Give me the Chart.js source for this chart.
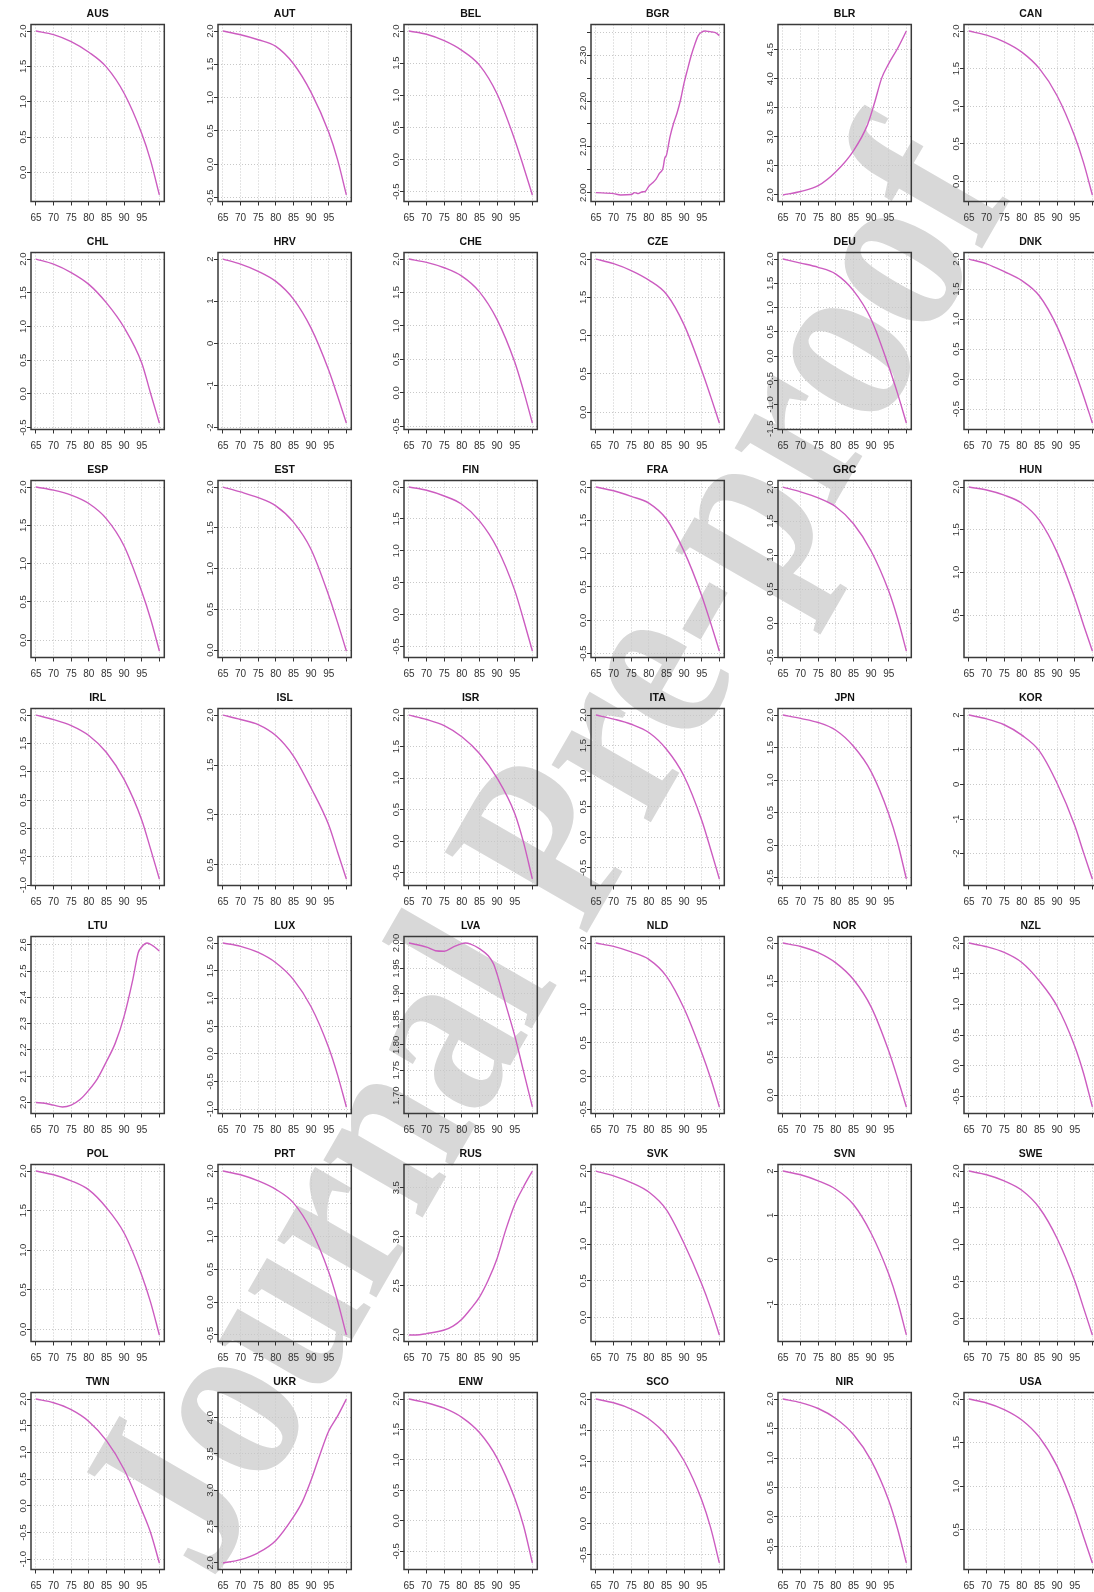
<!DOCTYPE html>
<html><head><meta charset="utf-8">
<script src="https://cdn.jsdelivr.net/npm/chart.js@4.4.1/dist/chart.umd.min.js"></script>
<style>
html,body{margin:0;padding:0;background:#fff;}
body{width:1094px;height:1592px;overflow:hidden;position:relative;}
canvas.p{position:absolute;}
#wm{position:absolute;left:540px;top:846px;transform:translate(-50%,-50%) rotate(-60deg) scale(1,1.2);
font-family:'Liberation Serif','Times New Roman',serif;font-weight:bold;font-size:208px;line-height:1;
white-space:nowrap;color:#d8d8d8;mix-blend-mode:multiply;pointer-events:none;}
</style></head><body>
<div id="wm">Journal Pre-proof</div>
<script>
// ---------- data ----------
const countries = ['AUS','AUT','BEL','BGR','BLR','CAN','CHL','HRV','CHE','CZE','DEU','DNK',
  'ESP','EST','FIN','FRA','GRC','HUN','IRL','ISL','ISR','ITA','JPN','KOR',
  'LTU','LUX','LVA','NLD','NOR','NZL','POL','PRT','RUS','SVK','SVN','SWE',
  'TWN','UKR','ENW','SCO','NIR','USA'];

const ages = [65,70,75,80,85,90,95,97.5,100];
const xTicks = [65,70,75,80,85,90,95,100];
const xLabels = ['65','70','75','80','85','90','95',''];

const AUS = [2.0,1.95,1.85,1.70,1.49,1.12,0.55,0.17,-0.32];
const AUT = [2.0,1.945,1.87,1.77,1.51,1.08,0.48,0.07,-0.46];
const BEL = [2.0,1.95,1.85,1.70,1.47,1.02,0.31,-0.11,-0.55];
const CAN = [2.0,1.946,1.857,1.72,1.50,1.14,0.60,0.25,-0.18];
const CHL = [2.0,1.925,1.80,1.625,1.35,0.985,0.46,0.01,-0.43];
const HRV = [2.0,1.88,1.71,1.47,1.05,0.36,-0.64,-1.25,-1.89];
const CHE = [2.0,1.95,1.87,1.745,1.51,1.095,0.46,0.03,-0.45];
const CZE = [2.0,1.94,1.85,1.725,1.54,1.14,0.545,0.21,-0.14];
const DEU = [2.0,1.917,1.83,1.69,1.35,0.76,-0.215,-0.77,-1.38];
const DNK = [2.0,1.92,1.79,1.64,1.385,0.875,0.14,-0.28,-0.73];
const ESP = [2.0,1.96,1.895,1.785,1.585,1.23,0.635,0.28,-0.14];
const EST = [2.0,1.94,1.87,1.77,1.57,1.235,0.67,0.34,-0.01];
const FIN = [2.0,1.95,1.86,1.73,1.47,1.045,0.38,-0.08,-0.57];
const FRA = [2.0,1.944,1.86,1.76,1.52,1.035,0.37,-0.035,-0.46];
const GRC = [2.0,1.93,1.84,1.71,1.46,1.06,0.47,0.07,-0.41];
const HUN = [2.0,1.965,1.905,1.81,1.61,1.235,0.70,0.385,0.08];
const IRL = [2.0,1.92,1.815,1.64,1.34,0.865,0.15,-0.36,-0.89];
const ISL = [2.0,1.956,1.905,1.795,1.59,1.27,0.90,0.63,0.36];
const ISR = [2.0,1.93,1.833,1.656,1.39,1.0,0.44,-0.02,-0.60];
const ITA = [2.0,1.934,1.85,1.714,1.44,1.0,0.28,-0.19,-0.68];
const JPN = [2.0,1.948,1.885,1.766,1.52,1.13,0.48,0.04,-0.52];
const KOR = [2.0,1.89,1.72,1.42,0.96,0.03,-1.19,-1.97,-2.73];
const LUX = [2.0,1.94,1.83,1.645,1.34,0.85,0.11,-0.38,-0.96];
const NLD = [2.0,1.95,1.867,1.755,1.50,1.015,0.35,-0.03,-0.465];
const NOR = [2.0,1.955,1.875,1.74,1.52,1.16,0.58,0.225,-0.156];
const NZL = [2.0,1.94,1.847,1.683,1.38,0.97,0.32,-0.12,-0.67];
const POL = [2.0,1.953,1.877,1.762,1.536,1.217,0.685,0.345,-0.07];
const PRT = [2.0,1.943,1.85,1.72,1.515,1.10,0.46,0.02,-0.50];
const SVK = [2.0,1.935,1.843,1.713,1.47,1.01,0.455,0.13,-0.24];
const SVN = [2.0,1.916,1.78,1.59,1.246,0.60,-0.32,-0.93,-1.69];
const SWE = [2.0,1.95,1.867,1.74,1.50,1.087,0.514,0.147,-0.22];
const TWN = [2.0,1.93,1.80,1.58,1.22,0.68,-0.08,-0.50,-1.07];
const ENW = [2.0,1.94,1.85,1.70,1.45,1.03,0.37,-0.08,-0.69];
const SCO = [2.0,1.94,1.84,1.68,1.42,1.01,0.38,-0.06,-0.63];
const NIR = [2.0,1.94,1.84,1.67,1.40,0.96,0.28,-0.20,-0.78];
const USA = [2.0,1.955,1.88,1.76,1.56,1.23,0.73,0.42,0.12];

const agesBGR = [65,70,72,75,76,77,78,79,80,81,82,83,84,84.5,85,86,87,88,89,90,91,92,93,94,95,96,97,98,99,100];
const BGR = [2.0,1.998,1.995,1.996,2.0,1.998,2.0015,2.003,2.014,2.021,2.029,2.042,2.053,2.075,2.082,2.122,2.151,2.174,2.203,2.240,2.270,2.299,2.323,2.343,2.351,2.353,2.352,2.351,2.349,2.343];
const agesBLR = [65,70,75,80,85,89,91,93,95,97.5,100];
const BLR = [2.0,2.06,2.16,2.40,2.76,3.21,3.59,4.01,4.26,4.52,4.82];
const agesLTU = [65,67.5,70,72.5,75,77.5,80,82.5,85,87.5,90,92.5,94,95,96.5,98,100];
const LTU = [2.0,1.997,1.99,1.983,1.99,2.011,2.047,2.092,2.156,2.226,2.328,2.47,2.57,2.592,2.607,2.598,2.577];
const agesLVA = [65,70,72.5,75,77.5,80,81,82.5,85,87.5,89,90,92.5,95,97.5,100];
const LVA = [2.0,1.992,1.985,1.984,1.992,1.999,2.0,1.998,1.989,1.975,1.959,1.939,1.878,1.818,1.748,1.678];
const agesRUS = [65,67,70,75,77.5,80,82.5,85,87.5,90,92.5,95,97.5,100];
const RUS = [2.0,2.0,2.014,2.05,2.09,2.16,2.265,2.386,2.56,2.78,3.076,3.33,3.51,3.67];
const agesUKR = [65,70,75,80,85,87.5,90,92.5,95,97.5,100];
const UKR = [2.0,2.046,2.14,2.31,2.634,2.84,3.14,3.49,3.815,4.02,4.255];

// y tick labels
const T_0  = ['0.0','0.5','1.0','1.5','2.0'];
const T_H  = ['-0.5','0.0','0.5','1.0','1.5','2.0'];
const T_1  = ['-1.0','-0.5','0.0','0.5','1.0','1.5','2.0'];
const T_15 = ['-1.5','-1.0','-0.5','0.0','0.5','1.0','1.5','2.0'];
const T_I2 = ['-2','-1','0','1','2'];
const T_I1 = ['-1','0','1','2'];
const T_P5 = ['0.5','1.0','1.5','2.0'];
const T_BLR = ['2.0','2.5','3.0','3.5','4.0','4.5'];
const T_RUS = ['2.0','2.5','3.0','3.5'];
const T_UKR = ['2.0','2.5','3.0','3.5','4.0'];
const T_BGR = ['2.00','2.05','2.10','2.15','2.20','2.25','2.30','2.35'];
const T_BGR_SHOWN = ['2.00','2.10','2.20','2.30'];
const T_LTU = ['2.0','2.1','2.2','2.3','2.4','2.5','2.6'];
const T_LVA = ['1.70','1.75','1.80','1.85','1.90','1.95','2.00'];

const panels = {
  AUS:[ages,AUS,T_0], AUT:[ages,AUT,T_H], BEL:[ages,BEL,T_H], BGR:[agesBGR,BGR,T_BGR,T_BGR_SHOWN],
  BLR:[agesBLR,BLR,T_BLR], CAN:[ages,CAN,T_0], CHL:[ages,CHL,T_H], HRV:[ages,HRV,T_I2],
  CHE:[ages,CHE,T_H], CZE:[ages,CZE,T_0], DEU:[ages,DEU,T_15], DNK:[ages,DNK,T_H],
  ESP:[ages,ESP,T_0], EST:[ages,EST,T_0], FIN:[ages,FIN,T_H], FRA:[ages,FRA,T_H],
  GRC:[ages,GRC,T_H], HUN:[ages,HUN,T_P5], IRL:[ages,IRL,T_1], ISL:[ages,ISL,T_P5],
  ISR:[ages,ISR,T_H], ITA:[ages,ITA,T_H], JPN:[ages,JPN,T_H], KOR:[ages,KOR,T_I2],
  LTU:[agesLTU,LTU,T_LTU], LUX:[ages,LUX,T_1], LVA:[agesLVA,LVA,T_LVA], NLD:[ages,NLD,T_H],
  NOR:[ages,NOR,T_0], NZL:[ages,NZL,T_H], POL:[ages,POL,T_0], PRT:[ages,PRT,T_H],
  RUS:[agesRUS,RUS,T_RUS], SVK:[ages,SVK,T_0], SVN:[ages,SVN,T_I1], SWE:[ages,SWE,T_0],
  TWN:[ages,TWN,T_1], UKR:[agesUKR,UKR,T_UKR], ENW:[ages,ENW,T_H], SCO:[ages,SCO,T_H],
  NIR:[ages,NIR,T_H], USA:[ages,USA,T_P5]
};

// ---------- style ----------
const FONT = "'Liberation Sans', Arial, Helvetica, sans-serif";
const LINE = '#CC5CC0';
const GRID = '#c8c8c8';
const AXIS = '#333333';
const XFS = 10, YFS = 9.5, TFS = 10.5;
const CW = 187, CH = 228, COLSTEP = 186.67, ROWSTEP = 228;
const YW = 31, XH = 26.5, PT = 24.5, PR = 22.7, TL = 4;

const mctx = document.createElement('canvas').getContext('2d');
mctx.font = YFS + 'px ' + FONT;

const boxPlugin = {
  id:'panelBox',
  afterDraw(chart, args, opts){
    const {ctx, chartArea:a} = chart;
    ctx.save();
    ctx.setLineDash([]);
    ctx.strokeStyle = '#3a3a3a';
    ctx.lineWidth = 1.5;
    ctx.strokeRect(a.left, a.top, a.right - a.left, a.bottom - a.top);
    ctx.fillStyle = '#111';
    ctx.font = 'bold ' + TFS + 'px ' + FONT;
    ctx.textAlign = 'center';
    ctx.textBaseline = 'middle';
    ctx.fillText(opts.text, (a.left + a.right) / 2, a.top - 10.5);
    ctx.restore();
  }
};

countries.forEach((name, i) => {
  const [xs, ys, tk, shown] = panels[name];
  const col = i % 6, row = Math.floor(i / 6);
  const cv = document.createElement('canvas');
  cv.className = 'p';
  cv.width = CW; cv.height = CH;
  cv.style.left = Math.round(col * COLSTEP) + 'px';
  cv.style.top = (row * ROWSTEP) + 'px';
  cv.style.width = CW + 'px'; cv.style.height = CH + 'px';
  document.body.appendChild(cv);

  const mn = Math.min(...ys), mx = Math.max(...ys), r = mx - mn;
  const yMin = mn - 0.04 * r, yMax = mx + 0.04 * r;
  const yt = tk.filter(l => { const v = parseFloat(l); return v >= yMin - 1e-9 && v <= yMax + 1e-9; });
  const ylab = yt.map(l => (!shown || shown.includes(l)) ? l : '');
  const widest = Math.max(...ylab.map(l => mctx.measureText(l).width));
  const ypad = 3.5 - widest / 2;

  new Chart(cv, {
    type:'line',
    data:{ datasets:[{
      data: xs.map((x, k) => ({x, y: ys[k]})),
      borderColor: LINE, borderWidth: 1.4, pointRadius: 0, fill: false,
      cubicInterpolationMode: 'monotone'
    }]},
    options:{
      responsive:false, animation:false, devicePixelRatio:1,
      events: [],
      layout:{ padding:{ top:PT, left:0, right:PR, bottom:0 } },
      plugins:{ legend:{display:false}, tooltip:{enabled:false}, panelBox:{ text:name } },
      scales:{
        x:{
          type:'linear', min:65 - 1.4, max:100 + 1.4,
          afterBuildTicks: s => { s.ticks = xTicks.map(v => ({value:v})); },
          afterFit: s => { s.height = XH; },
          ticks:{ autoSkip:false, maxRotation:0, minRotation:0, padding:7, color:AXIS,
                  font:{family:FONT, size:XFS}, callback:(v, k) => xLabels[k] },
          grid:{ color:GRID, lineWidth:1, drawTicks:true, tickLength:TL, tickColor:AXIS, tickWidth:1, tickBorderDash:[] },
          border:{ display:false, dash:[1,2] }
        },
        y:{
          type:'linear', min:yMin, max:yMax,
          afterBuildTicks: s => { s.ticks = yt.map(l => ({value:parseFloat(l)})); },
          afterFit: s => { s.width = YW; },
          ticks:{ autoSkip:false, minRotation:90, maxRotation:90, crossAlign:'center', padding:ypad,
                  color:AXIS, font:{family:FONT, size:YFS}, callback:(v, k) => ylab[k] },
          grid:{ color:GRID, lineWidth:1, drawTicks:true, tickLength:TL, tickColor:AXIS, tickWidth:1, tickBorderDash:[] },
          border:{ display:false, dash:[1,2] }
        }
      }
    },
    plugins:[boxPlugin]
  });
});
</script>
</body></html>
